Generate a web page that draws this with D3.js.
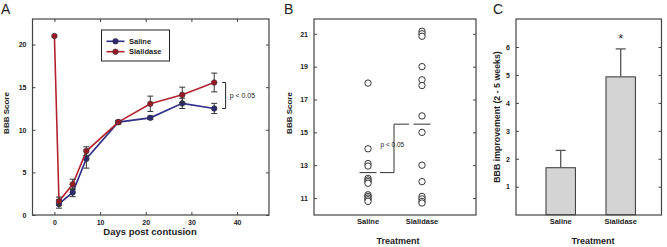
<!doctype html>
<html>
<head>
<meta charset="utf-8">
<title>BBB</title>
<script src="https://cdn.jsdelivr.net/npm/d3@7"></script>
<style>
  body { margin: 0; background: #fff; }
  svg, svg text { font-family: "Liberation Sans", Arial, sans-serif; }
  .tick text { font-size: 7px; font-weight: bold; fill: #222; font-family: "Liberation Sans", Arial, sans-serif; }
  .tick line { stroke: #444; }
  .lab { font-size: 8px; font-weight: bold; fill: #222; }
  .panel { font-size: 14px; fill: #222; }
</style>
</head>
<body>
<svg width="667" height="247"></svg>
<script>
// ---- data ----
var days = [0, 1, 4, 7, 14, 21, 28, 35];
var salineMean = [21, 1.3, 2.65, 6.6, 10.9, 11.4, 13.1, 12.5];
var salineErr = [0, 0.5, 0.5, 1.1, 0.2, 0.2, 0.6, 0.6];
var sialMean = [21, 1.6, 3.6, 7.5, 10.9, 13.05, 14.1, 15.55];
var sialErr = [0, 0.5, 0.6, 0.5, 0.2, 0.9, 0.9, 1.1];
var aTicksX = [0, 10, 20, 30, 40];
var aTicksY = [0, 5, 10, 15, 20];

var groups = ["Saline", "Sialidase"];
var salineScores = [18, 14, 13.1, 12.95, 12.2, 12.1, 12.0, 11.9, 11.2, 11.1, 11.0, 10.9, 10.8];
var sialScores = [21.15, 21.0, 20.85, 19.0, 18.2, 17.85, 16.0, 15.0, 13.0, 12.0, 11.1, 10.95, 10.8, 10.7];
var groupMeans = [12.55, 15.5];
var bTicksY = [11, 13, 15, 17, 19, 21];

var improveMean = [1.68, 4.93];
var improveErr = [0.62, 1.0];
var cTicksY = [1, 2, 3, 4, 5, 6];

var svg = d3.select("svg");
var top0 = 19, bot0 = 215;

function frame(x0, x1) {
  svg.append("rect").attr("x", x0).attr("y", top0).attr("width", x1 - x0).attr("height", bot0 - top0)
    .attr("fill", "none").attr("stroke", "#444").attr("stroke-width", 1.2);
}
function yAxes(y, ticks, x0, x1) {
  var l = svg.append("g").attr("transform", "translate(" + x0 + ",0)")
    .call(d3.axisLeft(y).tickValues(ticks).tickFormat(d3.format("d"))
      .tickSizeInner(-3).tickSizeOuter(0).tickPadding(6));
  l.select(".domain").remove();
  var r = svg.append("g").attr("transform", "translate(" + x1 + ",0)")
    .call(d3.axisRight(y).tickValues(ticks).tickSizeInner(-3).tickSizeOuter(0).tickFormat(""));
  r.select(".domain").remove();
}

// ================= Panel A =================
var xA = d3.scaleLinear().domain([-4.8, 47]).range([32.5, 269]);
var yA = d3.scaleLinear().domain([0, 23]).range([bot0, top0]);
frame(32.5, 269);
yAxes(yA, aTicksY, 32.5, 269);
var ax = svg.append("g").attr("transform", "translate(0," + bot0 + ")")
  .call(d3.axisBottom(xA).tickValues(aTicksX).tickSizeInner(-3).tickSizeOuter(0).tickPadding(5));
ax.select(".domain").remove();
var axT = svg.append("g").attr("transform", "translate(0," + top0 + ")")
  .call(d3.axisTop(xA).tickValues(aTicksX).tickSizeInner(-3).tickSizeOuter(0).tickFormat(""));
axT.select(".domain").remove();

var series = [
  { name: "Saline", mean: salineMean, err: salineErr, line: "#2f2f88", fill: "#2b2a70", start: 1 },
  { name: "Sialidase", mean: sialMean, err: sialErr, line: "#b3232f", fill: "#9a1b27", start: 0 }
];
var lineGen = d3.line().x(function (d) { return xA(d[0]); }).y(function (d) { return yA(d[1]); });

series.forEach(function (s) {
  var pts = days.map(function (d, i) { return [d, s.mean[i], s.err[i]]; }).slice(s.start);
  svg.append("path").datum(pts).attr("d", lineGen)
    .attr("fill", "none").attr("stroke", s.line).attr("stroke-width", 1.6);
  var eb = svg.append("g").attr("stroke", "#333").attr("stroke-width", 1);
  pts.filter(function (p) { return p[2] > 0; }).forEach(function (p) {
    var cx = xA(p[0]);
    eb.append("line").attr("x1", cx).attr("x2", cx).attr("y1", yA(p[1] - p[2])).attr("y2", yA(p[1] + p[2]));
    eb.append("line").attr("x1", cx - 3).attr("x2", cx + 3).attr("y1", yA(p[1] - p[2])).attr("y2", yA(p[1] - p[2]));
    eb.append("line").attr("x1", cx - 3).attr("x2", cx + 3).attr("y1", yA(p[1] + p[2])).attr("y2", yA(p[1] + p[2]));
  });
  svg.append("g").selectAll("circle").data(pts).enter().append("circle")
    .attr("cx", function (p) { return xA(p[0]); })
    .attr("cy", function (p) { return yA(p[1]); })
    .attr("r", 2.8).attr("fill", s.fill).attr("stroke", "#333").attr("stroke-width", 0.6);
});

// legend
svg.append("rect").attr("x", 101.5).attr("y", 30).attr("width", 68).attr("height", 31)
  .attr("fill", "#fff").attr("stroke", "#222").attr("stroke-width", 1);
series.forEach(function (s, i) {
  var ly = 41.3 + i * 10.4;
  svg.append("line").attr("x1", 106.5).attr("x2", 124.5).attr("y1", ly).attr("y2", ly)
    .attr("stroke", s.line).attr("stroke-width", 1.6);
  svg.append("circle").attr("cx", 115.5).attr("cy", ly).attr("r", 2.8)
    .attr("fill", s.fill).attr("stroke", "#333").attr("stroke-width", 0.6);
  svg.append("text").attr("x", 129).attr("y", ly + 2.7).attr("class", "lab")
    .style("font-size", "7.5px").text(s.name);
});

// significance bracket
var bx = xA(37.5), yTop = yA(sialMean[7]), yBot = yA(salineMean[7]);
svg.append("path")
  .attr("d", "M" + (bx - 3.5) + "," + yTop + "H" + bx + "V" + yBot + "H" + (bx - 3.5))
  .attr("fill", "none").attr("stroke", "#222").attr("stroke-width", 1);
svg.append("text").attr("x", bx + 4).attr("y", (yTop + yBot) / 2 + 2.5)
  .style("font-size", "7px").attr("fill", "#222").text("p < 0.05");

svg.append("text").attr("class", "lab").attr("x", 150).attr("y", 234.5).attr("text-anchor", "middle")
  .style("font-size", "9.5px").text("Days post contusion");
svg.append("text").attr("class", "lab").attr("transform", "translate(8.5,113) rotate(-90)")
  .attr("text-anchor", "middle").text("BBB Score");
svg.append("text").attr("class", "panel").attr("x", 1).attr("y", 14).text("A");

// ================= Panel B =================
var xB = d3.scaleLinear().domain([0, 3]).range([314, 476]);
var yB = d3.scaleLinear().domain([10, 21.9]).range([214.5, top0]);
frame(314, 476);
yAxes(yB, bTicksY, 314, 476);
groups.forEach(function (g, i) {
  svg.append("text").attr("class", "lab").attr("x", xB(i + 1)).attr("y", 224)
    .attr("text-anchor", "middle").style("font-size", "7.5px").text(g);
});
[salineScores, sialScores].forEach(function (vals, i) {
  svg.append("g").selectAll("circle").data(vals).enter().append("circle")
    .attr("cx", xB(i + 1)).attr("cy", function (d) { return yB(d); })
    .attr("r", 3.2).attr("fill", "#fff").attr("stroke", "#222").attr("stroke-width", 0.9);
});
// mean lines and connector
var mg = svg.append("g").attr("stroke", "#333").attr("stroke-width", 1).attr("fill", "none");
groupMeans.forEach(function (m, i) {
  mg.append("line").attr("x1", xB(i + 1) - 8.5).attr("x2", xB(i + 1) + 8.5)
    .attr("y1", yB(m)).attr("y2", yB(m));
});
var cxm = (xB(1) + xB(2)) / 2 - 1;
mg.append("path").attr("d", "M" + (xB(1) + 12) + "," + yB(groupMeans[0]) + "H" + cxm +
  "V" + yB(groupMeans[1]) + "H" + (xB(2) - 13));
svg.append("text").attr("x", 380.5).attr("y", 146.5).style("font-size", "6.5px").attr("fill", "#222").text("p < 0.05");
svg.append("text").attr("class", "lab").attr("x", 398).attr("y", 244).attr("text-anchor", "middle")
  .style("font-size", "9px").text("Treatment");
svg.append("text").attr("class", "lab").attr("transform", "translate(292,113) rotate(-90)")
  .attr("text-anchor", "middle").text("BBB Score");
svg.append("text").attr("class", "panel").attr("x", 284).attr("y", 14).text("B");

// ================= Panel C =================
var xC = d3.scaleLinear().domain([0.255, 2.68]).range([516, 661.5]);
var yC = d3.scaleLinear().domain([0, 7]).range([214.7, top0]);
frame(516, 661.5);
yAxes(yC, cTicksY, 516, 661.5);
groups.forEach(function (g, i) {
  svg.append("text").attr("class", "lab").attr("x", xC(i + 1)).attr("y", 224)
    .attr("text-anchor", "middle").style("font-size", "7.5px").text(g);
});
var barHalf = 0.245;
svg.append("g").selectAll("rect").data(improveMean).enter().append("rect")
  .attr("x", function (d, i) { return xC(i + 1 - barHalf); })
  .attr("width", xC(1 + barHalf) - xC(1 - barHalf))
  .attr("y", function (d) { return yC(d); })
  .attr("height", function (d) { return yC(0) - yC(d); })
  .attr("fill", "#d4d4d4").attr("stroke", "#333").attr("stroke-width", 1);
var ce = svg.append("g").attr("stroke", "#555").attr("stroke-width", 1.3);
improveMean.forEach(function (m, i) {
  var cx = xC(i + 1);
  ce.append("line").attr("x1", cx).attr("x2", cx).attr("y1", yC(m)).attr("y2", yC(m + improveErr[i]));
  ce.append("line").attr("x1", cx - 5).attr("x2", cx + 5)
    .attr("y1", yC(m + improveErr[i])).attr("y2", yC(m + improveErr[i]));
});
svg.append("text").attr("x", xC(2)).attr("y", yC(improveMean[1] + improveErr[1]) - 6)
  .attr("text-anchor", "middle").style("font-size", "13px").attr("fill", "#333").text("*");
svg.append("text").attr("class", "lab").attr("x", 593).attr("y", 244).attr("text-anchor", "middle")
  .style("font-size", "9px").text("Treatment");
svg.append("text").attr("class", "lab").attr("transform", "translate(500,117) rotate(-90)")
  .attr("text-anchor", "middle").style("font-size", "8.8px").text("BBB improvement  (2 - 5 weeks)");
svg.append("text").attr("class", "panel").attr("x", 493).attr("y", 14).text("C");
</script>
</body>
</html>
